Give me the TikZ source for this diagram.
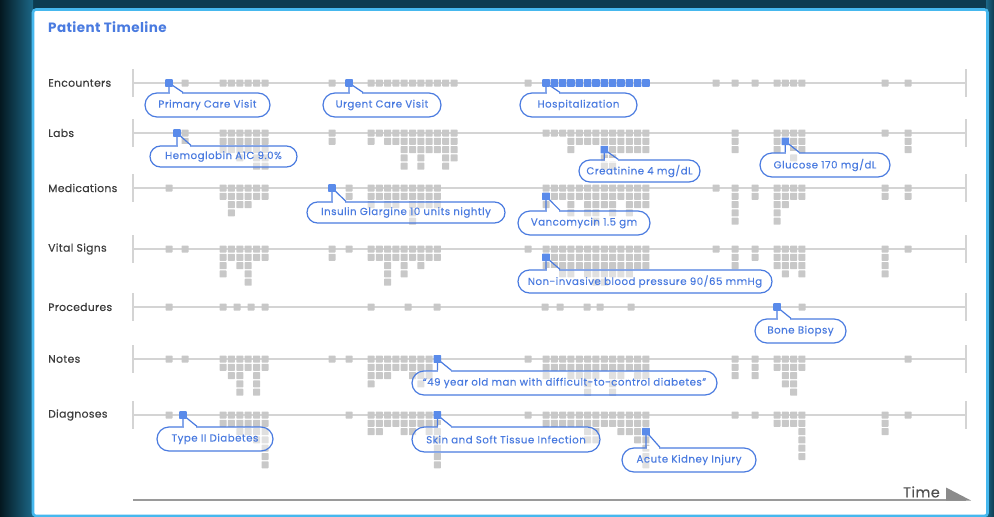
\documentclass[tikz,border=0pt]{standalone}
\usepackage{fontspec}
\setmainfont{Poppins}
\newfontfamily\pillfont{Poppins}[LetterSpace=5, FakeBold=0.25]
\newfontfamily\labelfont{Poppins}[LetterSpace=3, FakeBold=0.25]
\newfontfamily\titlefont{Poppins}[LetterSpace=3]
\usetikzlibrary{calc,shapes.misc}

\definecolor{bgdark}{HTML}{041820}
\definecolor{bgteal}{HTML}{1C6888}
\definecolor{bgmid}{HTML}{0D3C51}
\definecolor{framecol}{HTML}{46B8EE}
\definecolor{linegray}{HTML}{D4D4D4}
\definecolor{cellgray}{HTML}{C8C8C8}
\definecolor{cellblue}{HTML}{5A8BEA}
\definecolor{accent}{HTML}{4A7BE0}
\definecolor{labeltext}{HTML}{3C3C3C}
\definecolor{axisgray}{HTML}{9A9A9A}
\definecolor{timegray}{HTML}{505050}

\tikzset{
  rowlabel/.style={anchor=west, inner sep=0pt, text=labeltext,
    font=\labelfont\fontsize{10.8}{12}\selectfont},
  pill/.style={draw=accent, line width=1.2pt, rounded rectangle, fill=white,
    fill opacity=0.45, text opacity=1, text=accent, inner sep=0pt,
    font=\pillfont\fontsize{10.2}{12}\selectfont},
  pointer/.style={draw=accent, line width=1.2pt, line join=round},
  graycell/.style={fill=cellgray, rounded corners=0.6pt},
  bluefill/.style={fill=cellblue, rounded corners=0.6pt},
  trackline/.style={draw=linegray, line width=1.1pt},
}

% columns of stacked cells: first x, pitch, row y, list of column heights
\newcommand{\cellcols}[4]{%
  \foreach \hh [count=\ii from 0] in {#4}{%
    \foreach \kk in {1,...,\hh}{%
      \fill[graycell] ({#1+\ii*#2-3.5},{#3+(\kk-1)*8.3-3.5}) rectangle ++(7,7);
    }}}
% isolated columns: row y, list of x/height
\newcommand{\singles}[2]{%
  \foreach \sx/\sn in {#2}{%
    \foreach \kk in {1,...,\sn}{%
      \fill[graycell] ({\sx-3.5},{#1+(\kk-1)*8.3-3.5}) rectangle ++(7,7);
    }}}
\newcommand{\bluecell}[2]{\fill[bluefill] ({#1-3.8},{#2-3.8}) rectangle ++(7.6,7.6);}
% timeline track with end ticks
\newcommand{\track}[2]{%
  \draw[trackline] (133,#2) -- (966,#2);
  \draw[trackline] (133,#2-14) -- (133,#2+14);
  \draw[trackline] (966,#2-14) -- (966,#2+14);
  \coordinate (#1) at (133,#2);}
% callout bubble: name, left, right, top, bottom, tip x, tip y, text
\newcommand{\callout}[8]{%
  \node[pill, minimum width={#3-#2}, minimum height={#5-#4}] (#1)
    at ({(#2+#3)/2},{(#4+#5)/2}) {#8};
  \coordinate (#1-tip) at (#6,#7);
  \coordinate (#1-b1) at (#1-tip |- #1.north);
  \coordinate (#1-b2) at ($(#1-b1)+(14,0)$);
  \fill[white] ($(#1-b1)+(0.7,-1.3)$) rectangle ($(#1-b2)+(-0.6,1.3)$);
  \draw[pointer] (#1-b1) -- (#1-tip) -- (#1-b2);}

\begin{document}
\begin{tikzpicture}[x=1pt,y=-1pt]
\useasboundingbox (0,0) rectangle (994,517);

% backdrop and panel
\fill[bgmid] (0,0) rectangle (994,517);
\shade[left color=bgdark, right color=bgteal] (0,0) rectangle (33,517);
\shade[left color=bgteal, right color=bgmid] (986,0) rectangle (994,517);
\draw[framecol, line width=2.6pt, fill=white, rounded corners=3pt]
  (33,9.5) rectangle (987.5,516);

\node[anchor=west, inner sep=0pt, text=accent,
  font=\titlefont\fontsize{13.5}{15}\selectfont\bfseries] (title) at (48,27) {Patient Timeline};

% row labels and tracks
\foreach \nm/\yy/\txt in {enc/83/Encounters, lab/133/Labs, med/188/Medications,
    vit/249/Vital Signs, proc/307/Procedures, note/359/Notes, diag/415/Diagnoses}{
  \track{\nm-start}{\yy}
  \node[rowlabel] (\nm-label) at (48,\yy) {\txt};
}

% Encounters
\singles{83}{185/1, 332/1, 528/1, 716/1, 735/1, 755/1, 885/1, 908/1}
\cellcols{223}{8.4}{83}{1,1,1,1,1,1}
\cellcols{371}{8.3}{83}{1,1,1,1,1,1,1,1,1,1,1}
\cellcols{777}{8.33}{83}{1,1,1,1}

% Labs
\singles{133}{185/2, 332/2, 735/3, 885/1, 908/3}
\cellcols{223}{8.4}{133}{3,3,4,3,5,5}
\cellcols{371}{8.3}{133}{2,1,2,2,5,3,5,3,3,5,4}
\cellcols{546}{8.33}{133}{1,1,1,3,2,2,2,5,5,3,3,3,3}
\cellcols{777}{8.33}{133}{3,2,4,3}

% Medications
\singles{188}{169/1, 349/2, 716/1, 735/5, 755/2, 885/2, 908/2}
\cellcols{223}{8.4}{188}{2,4,3,3,2,2}
\cellcols{371}{8.3}{188}{3,2,3,3,2,5,3,3,3}
\cellcols{546}{8.33}{188}{3,2,2,4,2,4,5,3,4,2,4,3,3}
\cellcols{777}{8.33}{188}{5,3,2,2}

% Vital signs
\singles{249}{169/1, 185/1, 332/2, 349/1, 528/1, 716/1, 735/3, 755/2, 885/4, 908/1}
\cellcols{223}{8.4}{249}{4,2,3,5,2,2}
\cellcols{371}{8.3}{249}{2,2,5,2,4,2,3,2,2}
\cellcols{546}{8.33}{249}{3,3,4,4,3,4,5,5,4,4,4,3,3}
\cellcols{777}{8.33}{249}{3,4,3,4}

% Procedures
\singles{307}{169/1, 223/1, 237/1, 251/1, 265/1, 371/1, 408/1, 437/1,
  545/1, 560/1, 587/1, 600/1, 631/1, 802/1}

% Notes
\singles{359}{169/1, 185/1, 332/1, 349/1, 528/1, 735/3, 755/3, 908/1}
\cellcols{223}{8.4}{359}{2,3,5,2,5,2}
\cellcols{371}{8.3}{359}{4,3,3,2,2,3,4,3}
\cellcols{546}{8.33}{359}{3,2,2,3,3,5,3,2,5,3,2,3,3}
\cellcols{777}{8.33}{359}{2,4,5,2}

% Diagnoses
\singles{415}{169/1, 349/1, 437.4/7, 528/1, 735/1, 755/1, 885/3, 908/1}
\cellcols{223}{8.4}{415}{2,2,3,3,4,7}
\cellcols{371}{8.3}{415}{3,3,2,2,3,3,2,3}
\cellcols{546}{8.33}{415}{2,2,2,2,2,4,4,2,2,3,3,4,7}
\cellcols{777}{8.33}{415}{2,2,2,6}

% callouts
\callout{pcv}{145}{270}{93}{117}{169}{83}{Primary Care Visit}
\callout{hba}{150}{297}{146}{167}{177}{133}{Hemoglobin A1C 9.0\%}
\callout{ucv}{323}{441}{93}{117}{349}{83}{Urgent Care Visit}
\callout{hosp}{520}{637}{93}{117}{546}{83}{Hospitalization}
\callout{creat}{579}{700}{160}{182}{604.3}{149.6}{Creatinine 4 mg/dL}
\callout{gluc}{760}{890}{153}{177}{785.3}{141.3}{Glucose 170 mg/dL}
\callout{ins}{307}{505}{202}{223}{332}{188}{Insulin Glargine 10 units nightly}
\callout{vanc}{518}{650}{211}{235}{546}{196.3}{Vancomycin 1.5 gm}
\callout{nibp}{518}{772}{270}{293}{546}{257.3}{Non-invasive blood pressure 90/65 mmHg}
\callout{bone}{755}{846}{319}{343}{777}{307}{Bone Biopsy}
\callout{nte}{412}{717}{371}{395}{437.4}{359}{“49 year old man with difficult-to-control diabetes”}
\callout{t2d}{157}{273}{427}{451}{183}{415}{Type II Diabetes}
\callout{ssti}{412}{600}{427}{452}{437.4}{415}{Skin and Soft Tissue Infection}
\callout{aki}{622}{756}{448}{472}{646}{431.6}{Acute Kidney Injury}

% highlighted events
\foreach \k in {0,...,12}{\bluecell{546+8.33*\k}{83}}
\bluecell{169}{83}
\bluecell{349}{83}
\bluecell{177}{133}
\bluecell{604.3}{149.6}
\bluecell{785.3}{141.3}
\bluecell{332}{188}
\bluecell{546}{196.3}
\bluecell{546}{257.3}
\bluecell{777}{307}
\bluecell{437.4}{359}
\bluecell{183}{415}
\bluecell{437.4}{415}
\bluecell{646}{431.6}

% time axis
\coordinate (axis-start) at (133,500);
\coordinate (axis-end) at (966,500);
\draw[axisgray, line width=1.6pt] (axis-start) -- (axis-end);
\node[anchor=east, inner sep=0pt, text=timegray, font=\labelfont\fontsize{14.5}{16}\selectfont]
  (timelabel) at (940,492) {Time};
\fill[axisgray!90!black] (946,487.5) -- (946,500.5) -- (971,500.5) -- cycle;
\end{tikzpicture}
\end{document}
